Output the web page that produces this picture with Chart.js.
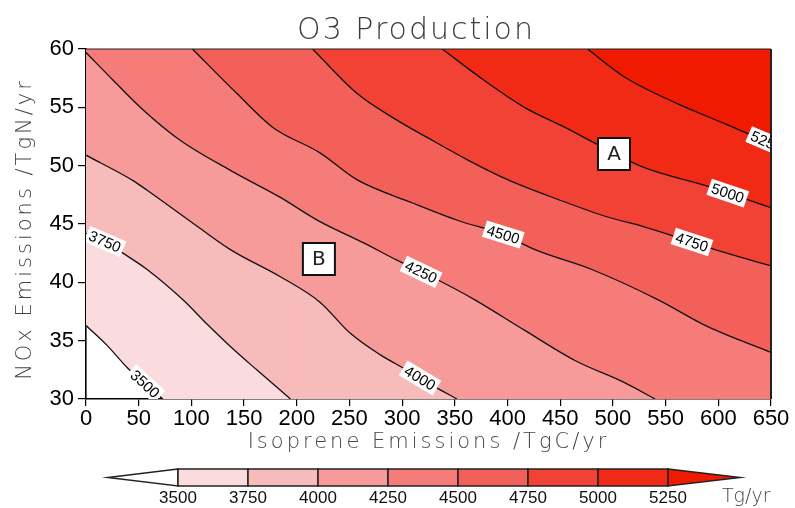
<!DOCTYPE html>
<html>
<head>
<meta charset="utf-8">
<script src="https://cdn.jsdelivr.net/npm/chart.js@4.4.1/dist/chart.umd.min.js"></script>
<style>
  html, body { margin: 0; padding: 0; background: #fff; }
  #wrap { width: 795px; height: 508px; position: relative; }
</style>
</head>
<body>
<div id="wrap"><canvas id="c" width="795" height="508"></canvas></div>
<script>
// Contour levels of O3 production (Tg/yr) and the fill colour of the band above each level
const levels = [3500, 3750, 4000, 4250, 4500, 4750, 5000, 5250];
const bandColors = ['#FBDCDE', '#F8BBBB', '#F69B9A', '#F57C79', '#F3605A', '#F24236', '#F12A15', '#F01A00'];

// Contour lines: [isoprene TgC/yr, NOx TgN/yr]
const c3500 = [[0,36.3],[20,34.6],[39,32.7],[56,31.3],[73,30]];
const c3750 = [[0,44.2],[18,43.5],[35,42.5],[58,41.1],[92,38.5],[115,36.4],[137,34.5],[162,32.5],[194,30]];
const c4000 = [[0,50.9],[45,48.7],[58,47.9],[95,45.5],[137,42.8],[184,40.5],[222,38.3],[250,35.7],[279,33.8],[304,32.5],[330,31.1],[352,30]];
const c4250 = [[0,59.7],[26,57.3],[54,54.8],[89,52.2],[137,49.6],[184,47.3],[222,45.2],[263,43.4],[295,41.9],[334,40.2],[369,38.5],[416,35.9],[464,33.3],[511,31.4],[540,30]];
const c4500 = [[101,60],[143,56.2],[177,53.3],[222,51.1],[257,48.8],[310,46.8],[353,45.3],[396,44.1],[426,42.8],[480,41.1],[543,38.5],[590,36.2],[650,34.0]];
const c4750 = [[215,60],[257,56.2],[295,53.9],[324,52.4],[362,50.5],[400,48.8],[448,47.1],[495,45.6],[528,44.8],[560,43.9],[597,42.8],[650,41.4]];
const c5000 = [[338,60],[378,57.3],[416,55.0],[454,53.3],[490,51.6],[528,49.9],[591,48.2],[650,46.4]];
const c5250 = [[476,60],[511,57.6],[559,55.4],[606,53.6],[650,51.9]];
const contours = [c3500, c3750, c4000, c4250, c4500, c4750, c5000, c5250];

// Where each contour carries its value label (isoprene coordinate)
const labelIso = [56, 18, 317, 318, 396, 575, 609, 646];

// Marked scenarios
const markerNames = ['A', 'B'];
const markerIso = [501, 221];
const markerNOx = [51, 42];

const X_MIN = 0, X_MAX = 650, Y_MIN = 30, Y_MAX = 60;

const toXY = pts => pts.map(p => ({ x: p[0], y: p[1] }));

const datasets = [];
contours.forEach((pts, k) => {
  // filled region on the high side of each contour
  datasets.push({
    data: toXY(pts), fill: 'end', backgroundColor: bandColors[k],
    borderColor: 'rgba(0,0,0,0)', borderWidth: 0, pointRadius: 0,
    cubicInterpolationMode: 'monotone', order: 100 - 2 * k
  });
  // contours that leave through the bottom axis: the band also covers everything to their right
  const last = pts[pts.length - 1];
  if (last[1] === Y_MIN && last[0] < X_MAX) {
    datasets.push({
      data: [{ x: last[0] - 1, y: Y_MIN }, { x: X_MAX, y: Y_MIN }], fill: 'end',
      backgroundColor: bandColors[k], borderColor: 'rgba(0,0,0,0)', borderWidth: 0,
      pointRadius: 0, order: 100 - 2 * k
    });
  }
});
contours.forEach(pts => {
  datasets.push({
    data: toXY(pts), fill: false, borderColor: '#111', borderWidth: 1.3,
    pointRadius: 0, cubicInterpolationMode: 'monotone', order: 0
  });
});

const decorations = {
  id: 'decorations',
  afterDatasetsDraw(chart) {
    const { ctx, chartArea: a, scales: { x, y } } = chart;
    // contour value labels
    ctx.save();
    ctx.beginPath();
    ctx.rect(a.left, a.top, a.right - a.left, a.bottom - a.top);
    ctx.clip();
    levels.forEach((lv, k) => {
      const pts = contours[k];
      const lx = labelIso[k];
      let i = 0;
      while (i < pts.length - 2 && pts[i + 1][0] < lx) i++;
      const [x0, y0] = pts[i], [x1, y1] = pts[i + 1];
      const t = (lx - x0) / (x1 - x0);
      const ly = y0 + t * (y1 - y0);
      const px = x.getPixelForValue(lx), py = y.getPixelForValue(ly);
      const ang = Math.atan2(y.getPixelForValue(y1) - y.getPixelForValue(y0),
                             x.getPixelForValue(x1) - x.getPixelForValue(x0));
      ctx.save();
      ctx.translate(px, py);
      ctx.rotate(ang);
      ctx.font = '15px "Liberation Sans", Arial, sans-serif';
      const txt = String(lv);
      const w = ctx.measureText(txt).width;
      ctx.fillStyle = '#fff';
      ctx.fillRect(-w / 2 - 3, -8.5, w + 6, 17);
      ctx.fillStyle = '#000';
      ctx.textAlign = 'center';
      ctx.textBaseline = 'middle';
      ctx.fillText(txt, 0, 1);
      ctx.restore();
    });
    ctx.restore();

    // scenario markers
    markerNames.forEach((m, i) => {
      const px = x.getPixelForValue(markerIso[i]), py = y.getPixelForValue(markerNOx[i]);
      ctx.save();
      ctx.fillStyle = '#fff';
      ctx.fillRect(px - 16, py - 16, 32, 32);
      ctx.strokeStyle = '#111';
      ctx.lineWidth = 2;
      ctx.strokeRect(px - 16, py - 16, 32, 32);
      ctx.fillStyle = '#222';
      ctx.font = '20px "DejaVu Sans", sans-serif';
      ctx.textAlign = 'center';
      ctx.textBaseline = 'middle';
      ctx.fillText(m, px, py + 1);
      ctx.restore();
    });

    // top and right frame
    ctx.save();
    ctx.strokeStyle = '#222';
    ctx.lineWidth = 1.2;
    ctx.beginPath();
    ctx.moveTo(a.left, a.top);
    ctx.lineTo(a.right, a.top);
    ctx.stroke();
    ctx.lineWidth = 2;
    ctx.beginPath();
    ctx.moveTo(a.right, a.top);
    ctx.lineTo(a.right, a.bottom);
    ctx.stroke();
    ctx.restore();
  },
  afterDraw(chart) {
    const { ctx, chartArea: a } = chart;
    ctx.save();
    // title
    ctx.fillStyle = '#3c3c3c';
    ctx.font = '200 30px "DejaVu Sans", sans-serif';
    ctx.letterSpacing = '2px';
    ctx.textAlign = 'center';
    ctx.textBaseline = 'alphabetic';
    ctx.fillText('O3 Production', 416, 39);

    // axis titles
    ctx.font = '200 21px "DejaVu Sans", sans-serif';
    ctx.letterSpacing = '3px';
    ctx.fillStyle = '#444';
    ctx.fillText('Isoprene Emissions /TgC/yr', (a.left + a.right) / 2, 448);
    ctx.save();
    ctx.translate(31, 229);
    ctx.rotate(-Math.PI / 2);
    ctx.fillText('NOx Emissions /TgN/yr', 0, 0);
    ctx.restore();
    ctx.letterSpacing = '0px';

    // colour bar
    const barL = 178, barR = 668, tipL = 108, tipR = 740, top = 469, bot = 486;
    const mid = (top + bot) / 2;
    const n = levels.length - 1;
    const bw = (barR - barL) / n;
    ctx.lineWidth = 1.5;
    ctx.strokeStyle = '#222';
    // lower-end triangle (below 3500)
    ctx.beginPath();
    ctx.moveTo(barL, top); ctx.lineTo(tipL, mid); ctx.lineTo(barL, bot); ctx.closePath();
    ctx.fillStyle = '#fff'; ctx.fill(); ctx.stroke();
    for (let i = 0; i < n; i++) {
      ctx.fillStyle = bandColors[i];
      ctx.fillRect(barL + i * bw, top, bw, bot - top);
      ctx.strokeRect(barL + i * bw, top, bw, bot - top);
    }
    // upper-end triangle (above 5250)
    ctx.beginPath();
    ctx.moveTo(barR, top); ctx.lineTo(tipR, mid); ctx.lineTo(barR, bot); ctx.closePath();
    ctx.fillStyle = bandColors[bandColors.length - 1]; ctx.fill(); ctx.stroke();

    ctx.fillStyle = '#111';
    ctx.font = '17px "Liberation Sans Narrow", "Liberation Sans", Arial, sans-serif';
    ctx.textAlign = 'center';
    ctx.textBaseline = 'alphabetic';
    levels.forEach((lv, i) => ctx.fillText(String(lv), barL + i * bw, 503));
    ctx.fillStyle = '#444';
    ctx.font = '200 19px "DejaVu Sans", sans-serif';
    ctx.textAlign = 'left';
    ctx.fillText('Tg/yr', 722, 502);
    ctx.restore();
  }
};

new Chart(document.getElementById('c'), {
  type: 'line',
  data: { datasets },
  options: {
    responsive: false,
    animation: false,
    events: [],
    layout: { padding: { left: 0, top: 49, right: 24, bottom: 59 } },
    plugins: { legend: { display: false }, tooltip: { enabled: false }, title: { display: false } },
    scales: {
      x: {
        type: 'linear', min: X_MIN, max: X_MAX,
        afterFit: s => { s.height = 50; },
        ticks: {
          stepSize: 50, autoSkip: false, maxRotation: 0, padding: 0,
          color: '#000', font: { family: 'Liberation Sans', size: 22 }
        },
        grid: { drawOnChartArea: false, drawTicks: true, tickLength: 7, color: '#000', lineWidth: 1.2 },
        border: { display: true, color: '#000', width: 1.6 }
      },
      y: {
        type: 'linear', min: Y_MIN, max: Y_MAX,
        afterFit: s => { s.width = 86; },
        ticks: {
          stepSize: 5, padding: 4,
          color: '#000', font: { family: 'Liberation Sans', size: 22 }
        },
        grid: { drawOnChartArea: false, drawTicks: true, tickLength: 8, color: '#000', lineWidth: 1.2 },
        border: { display: true, color: '#000', width: 1.6 }
      }
    }
  },
  plugins: [decorations]
});
</script>
</body>
</html>
